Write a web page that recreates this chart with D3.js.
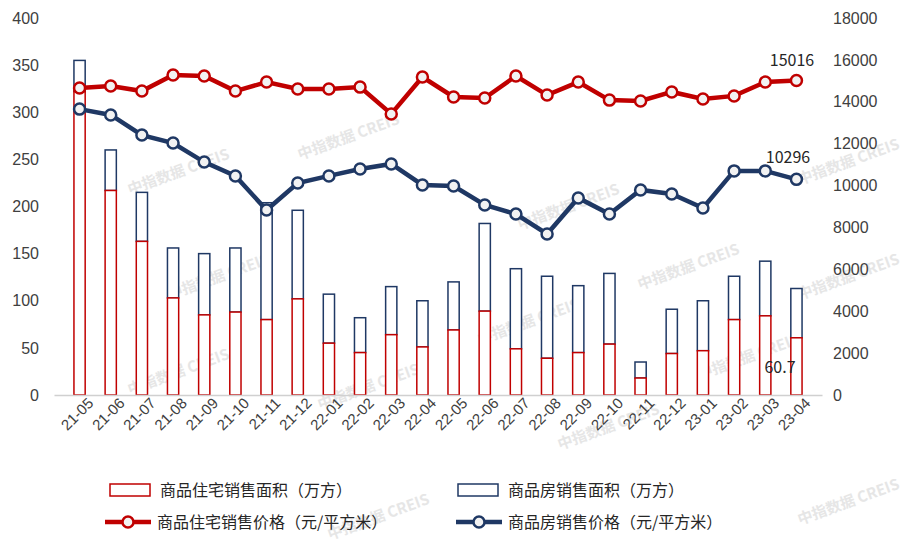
<!DOCTYPE html>
<html><head><meta charset="utf-8">
<script src="https://cdn.jsdelivr.net/npm/d3@7"></script>
<style>body{margin:0;background:#fff;font-family:"Noto Sans CJK SC","Noto Sans",sans-serif}</style>
</head><body><div id="chart"></div>
<script>
const months = ["21-05","21-06","21-07","21-08","21-09","21-10","21-11","21-12","22-01","22-02","22-03","22-04","22-05","22-06","22-07","22-08","22-09","22-10","22-11","22-12","23-01","23-02","23-03","23-04"];
const totalArea = [355,260,215,156,150,156,204,196,107,82,115,100,120,182,134,126,116,129,35,91,100,126,142,113];
const resArea = [322,217,163,103,85,88,80,102,55,45,64,51,69,89,49,39,45,54,18,44,47,80,84,60.7];
const resPrice = [14660,14750,14510,15280,15230,14510,14940,14610,14610,14700,13420,15180,14230,14180,15230,14320,14940,14080,14040,14470,14130,14280,14940,15016];
const allPrice = [13650,13370,12410,12030,11120,10460,8830,10120,10460,10790,11030,10030,9980,9070,8640,7690,9410,8640,9790,9600,8930,10700,10700,10296];
const leftTicks = d3.range(0, 401, 50);
const rightTicks = d3.range(0, 18001, 2000);

const W = 921, H = 558, red = "#c00000", navy = "#1f3864";
const svg = d3.select("#chart").append("svg").attr("width", W).attr("height", H);

const x = d3.scaleBand().domain(months).range([54, 822]).padding(0.64);
const yL = d3.scaleLinear().domain([0, 400]).range([395, 18]);
const yR = d3.scaleLinear().domain([0, 18000]).range([395, 18]);

// watermark
const wm = [[130,195],[300,160],[170,300],[520,230],[800,185],[130,395],[480,345],[640,290],[320,410],[700,380],[800,300],[560,450],[330,540],[800,525]];
svg.append("g").selectAll("text").data(wm).join("text")
  .attr("x", d => d[0]).attr("y", d => d[1])
  .attr("transform", d => `rotate(-20,${d[0]},${d[1]})`)
  .attr("fill", "#e6e6e6").attr("font-size", 15).attr("font-weight", "bold")
  .text("中指数据 CREIS");

svg.append("g").selectAll("rect").data(months).join("rect")
  .attr("x", d => x(d)).attr("width", x.bandwidth())
  .attr("y", (d, i) => yL(totalArea[i])).attr("height", (d, i) => yL(resArea[i]) - yL(totalArea[i]))
  .attr("fill", "#fff").attr("stroke", navy).attr("stroke-width", 1.5);
svg.append("g").selectAll("rect").data(months).join("rect")
  .attr("x", d => x(d)).attr("width", x.bandwidth())
  .attr("y", (d, i) => yL(resArea[i])).attr("height", (d, i) => yL(0) - yL(resArea[i]))
  .attr("fill", "#fff").attr("stroke", red).attr("stroke-width", 1.5);

const cx = d => x(d) + x.bandwidth() / 2;
function drawLine(vals, col) {
  svg.append("path").datum(vals)
    .attr("d", d3.line().x((v, i) => cx(months[i])).y(v => yR(v)))
    .attr("fill", "none").attr("stroke", col).attr("stroke-width", 4.5);
  svg.append("g").selectAll("circle").data(vals).join("circle")
    .attr("cx", (v, i) => cx(months[i])).attr("cy", v => yR(v)).attr("r", 5.5)
    .attr("fill", "#f2f2f2").attr("stroke", col).attr("stroke-width", 2.5);
}
drawLine(allPrice, navy);
drawLine(resPrice, red);

const ax = svg.append("g").attr("transform", "translate(0,395)")
  .call(d3.axisBottom(x).tickSize(0).tickSizeOuter(0));
ax.select(".domain").attr("stroke", "#d0d0d0").attr("stroke-width", 1.5);
ax.selectAll("text").attr("font-size", 15).attr("fill", "#404040")
  .attr("text-anchor", "end").attr("dx", "4").attr("dy", "14")
  .attr("transform", "rotate(-45)");
const al = svg.append("g").attr("transform", "translate(42,0)")
  .call(d3.axisLeft(yL).tickValues(leftTicks).tickSize(0));
al.select(".domain").remove();
al.selectAll("text").attr("font-size", 16).attr("fill", "#404040");
const ar = svg.append("g").attr("transform", "translate(830,0)")
  .call(d3.axisRight(yR).tickValues(rightTicks).tickSize(0).tickFormat(d3.format("d")));
ar.select(".domain").remove();
ar.selectAll("text").attr("font-size", 16).attr("fill", "#404040");

const lbl = [[792, 66, "15016"], [788, 163, "10296"], [780, 373, "60.7"]];
svg.append("g").selectAll("text").data(lbl).join("text")
  .attr("x", d => d[0]).attr("y", d => d[1]).attr("text-anchor", "middle")
  .attr("font-size", 16).attr("fill", "#262626").text(d => d[2]);

const leg = [
  {x: 108, y: 490, t: "bar", c: red, s: "商品住宅销售面积（万方）"},
  {x: 456, y: 490, t: "bar", c: navy, s: "商品房销售面积（万方）"},
  {x: 105, y: 522, t: "line", c: red, s: "商品住宅销售价格（元/平方米）"},
  {x: 456, y: 522, t: "line", c: navy, s: "商品房销售价格（元/平方米）"}
];
const lg = svg.append("g").selectAll("g").data(leg).join("g")
  .attr("transform", d => `translate(${d.x},${d.y})`);
lg.filter(d => d.t === "bar").append("rect")
  .attr("x", 2).attr("y", -6).attr("width", 40).attr("height", 12)
  .attr("fill", "#fff").attr("stroke", d => d.c).attr("stroke-width", 1.5);
lg.filter(d => d.t === "line").append("line")
  .attr("x1", 0).attr("x2", 46).attr("stroke", d => d.c).attr("stroke-width", 4.5);
lg.filter(d => d.t === "line").append("circle")
  .attr("cx", 23).attr("r", 5.5).attr("fill", "#f2f2f2").attr("stroke", d => d.c).attr("stroke-width", 2.5);
lg.append("text").attr("x", 52).attr("dy", "0.35em")
  .attr("font-size", 16).attr("fill", "#262626").text(d => d.s);
</script></body></html>
